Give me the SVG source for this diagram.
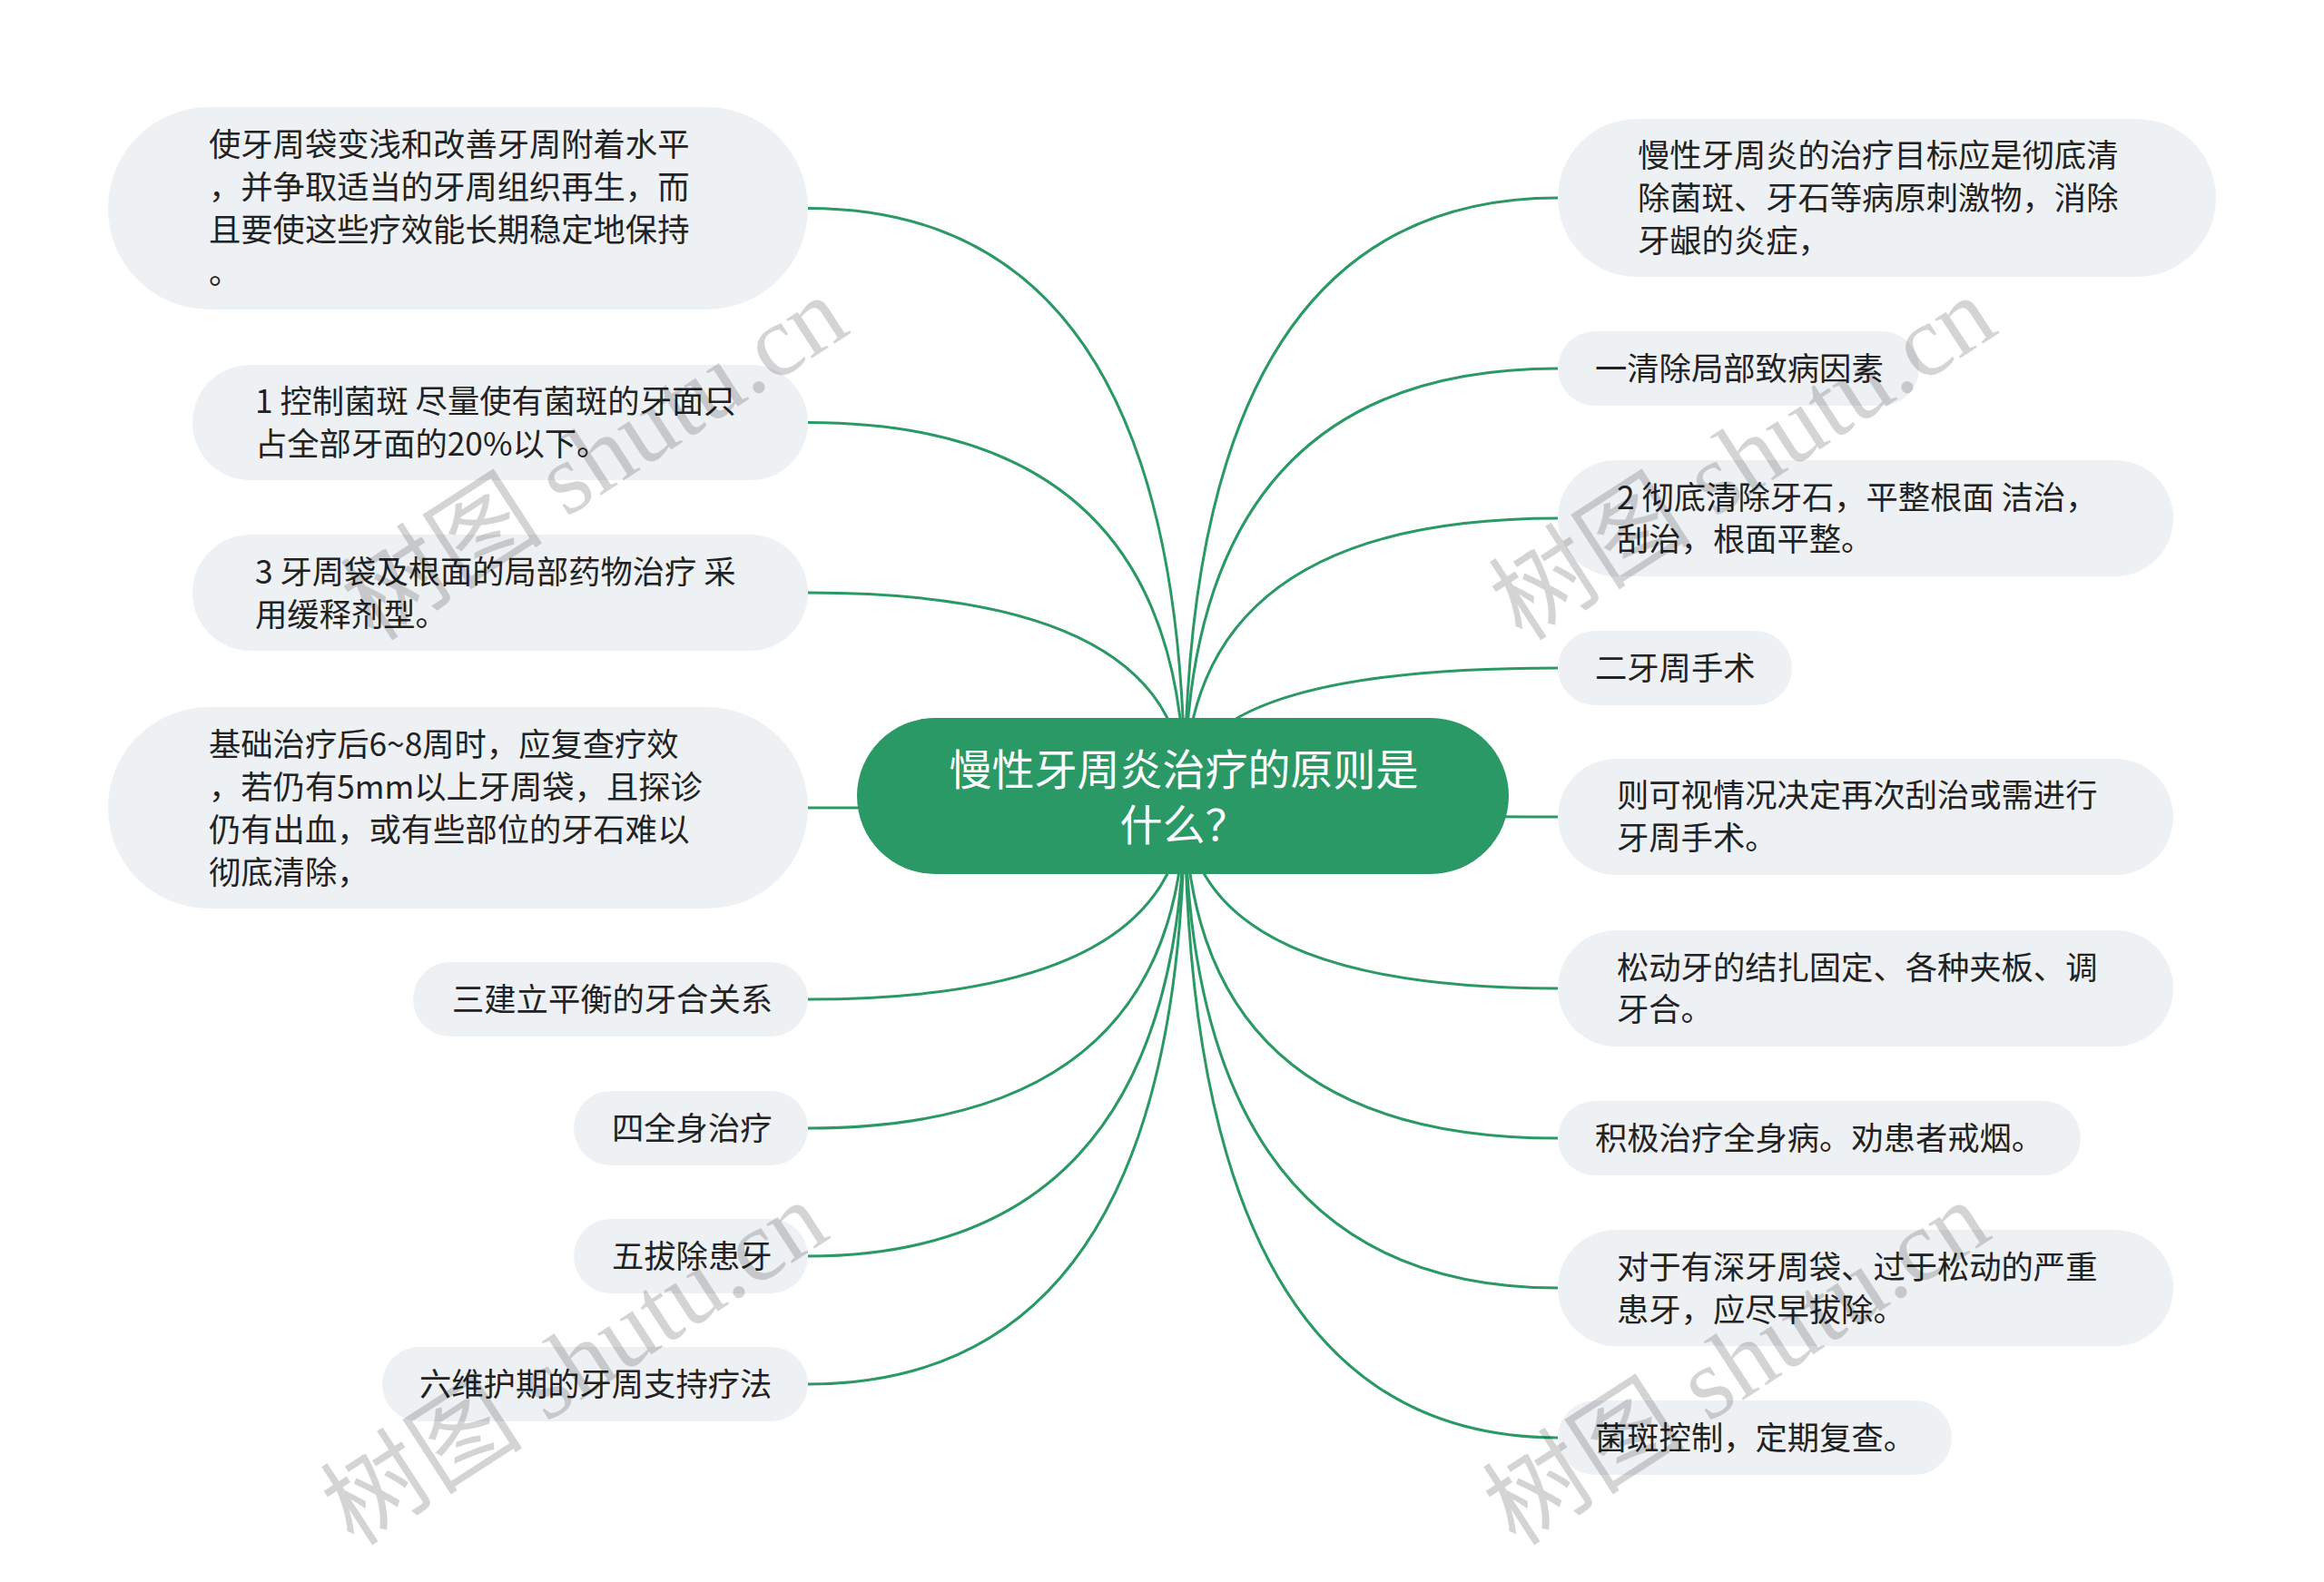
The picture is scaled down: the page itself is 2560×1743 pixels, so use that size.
<svg xmlns="http://www.w3.org/2000/svg" width="2560" height="1743" viewBox="0 0 2560 1743">
<style>
.bg{fill:#ffffff}
.node rect{fill:#eef1f4}
.t{font-family:"Noto Sans CJK SC","Liberation Sans",sans-serif;font-size:35.3px;fill:#222222}
.root rect{fill:#2a9966}
.rt{font-family:"Noto Sans CJK SC","Liberation Sans",sans-serif;font-size:47px;fill:#ffffff;text-anchor:middle}
.conn path{fill:none;stroke:#2a9966;stroke-width:3}
.wm text{font-family:"Liberation Serif","Noto Sans CJK SC",serif;font-size:112px;fill:#000000;fill-opacity:0.17}
</style>
<rect class="bg" x="0" y="0" width="2560" height="1743"/>
<g id="connectors" class="conn">
<path d="M890 229.5 Q1305 229.5 1305 877"/>
<path d="M890 465.5 Q1305 465.5 1305 877"/>
<path d="M890 653 Q1305 653 1305 877"/>
<path d="M890 890 Q1305 890 1305 877"/>
<path d="M890 1101 Q1305 1101 1305 877"/>
<path d="M890 1243 Q1305 1243 1305 877"/>
<path d="M890 1384 Q1305 1384 1305 877"/>
<path d="M890 1525 Q1305 1525 1305 877"/>
<path d="M1716 218 Q1305 218 1305 877"/>
<path d="M1716 406 Q1305 406 1305 877"/>
<path d="M1716 571 Q1305 571 1305 877"/>
<path d="M1716 736 Q1305 736 1305 877"/>
<path d="M1716 900 Q1305 900 1305 877"/>
<path d="M1716 1089 Q1305 1089 1305 877"/>
<path d="M1716 1254 Q1305 1254 1305 877"/>
<path d="M1716 1419 Q1305 1419 1305 877"/>
<path d="M1716 1584 Q1305 1584 1305 877"/>
</g>
<g id="root" class="root">
<rect x="944" y="791" width="718" height="172" rx="86"/>
<text class="rt" x="1304" y="865">慢性牙周炎治疗的原则是</text>
<text class="rt" x="1304" y="926">什么？</text>
</g>
<g id="L1" class="node">
<rect x="119" y="118" width="771" height="223" rx="111.5"/>
<text class="t" x="230" y="172">使牙周袋变浅和改善牙周附着水平</text>
<text class="t" x="230" y="219">，并争取适当的牙周组织再生，而</text>
<text class="t" x="230" y="266">且要使这些疗效能长期稳定地保持</text>
<text class="t" x="230" y="313">。</text>
</g>
<g id="L2" class="node">
<rect x="212" y="402" width="678" height="127" rx="63.5"/>
<text class="t" x="281" y="455">1 控制菌斑 尽量使有菌斑的牙面只</text>
<text class="t" x="281" y="502">占全部牙面的20%以下。</text>
</g>
<g id="L3" class="node">
<rect x="212" y="589" width="678" height="128" rx="64"/>
<text class="t" x="281" y="643">3 牙周袋及根面的局部药物治疗 采</text>
<text class="t" x="281" y="690">用缓释剂型。</text>
</g>
<g id="L4" class="node">
<rect x="119" y="779" width="771" height="222" rx="111"/>
<text class="t" x="230" y="833">基础治疗后6~8周时，应复查疗效</text>
<text class="t" x="230" y="880">，若仍有5mm以上牙周袋，且探诊</text>
<text class="t" x="230" y="927">仍有出血，或有些部位的牙石难以</text>
<text class="t" x="230" y="974">彻底清除，</text>
</g>
<g id="L5" class="node">
<rect x="455" y="1060" width="435" height="82" rx="41"/>
<text class="t" x="498" y="1114">三建立平衡的牙合关系</text>
</g>
<g id="L6" class="node">
<rect x="632" y="1202" width="258" height="82" rx="41"/>
<text class="t" x="674" y="1256">四全身治疗</text>
</g>
<g id="L7" class="node">
<rect x="632" y="1343" width="258" height="82" rx="41"/>
<text class="t" x="674" y="1397">五拔除患牙</text>
</g>
<g id="L8" class="node">
<rect x="421" y="1484" width="469" height="82" rx="41"/>
<text class="t" x="462" y="1538">六维护期的牙周支持疗法</text>
</g>
<g id="R1" class="node">
<rect x="1716" y="131" width="725" height="174" rx="87"/>
<text class="t" x="1804" y="184">慢性牙周炎的治疗目标应是彻底清</text>
<text class="t" x="1804" y="231">除菌斑、牙石等病原刺激物，消除</text>
<text class="t" x="1804" y="278">牙龈的炎症，</text>
</g>
<g id="R2" class="node">
<rect x="1716" y="365" width="398" height="82" rx="41"/>
<text class="t" x="1757" y="419">一清除局部致病因素</text>
</g>
<g id="R3" class="node">
<rect x="1716" y="507" width="678" height="128" rx="64"/>
<text class="t" x="1781" y="561">2 彻底清除牙石，平整根面 洁治，</text>
<text class="t" x="1781" y="607">刮治，根面平整。</text>
</g>
<g id="R4" class="node">
<rect x="1716" y="695" width="258" height="82" rx="41"/>
<text class="t" x="1757" y="749">二牙周手术</text>
</g>
<g id="R5" class="node">
<rect x="1716" y="836" width="678" height="128" rx="64"/>
<text class="t" x="1781" y="889">则可视情况决定再次刮治或需进行</text>
<text class="t" x="1781" y="936">牙周手术。</text>
</g>
<g id="R6" class="node">
<rect x="1716" y="1025" width="678" height="128" rx="64"/>
<text class="t" x="1781" y="1079">松动牙的结扎固定、各种夹板、调</text>
<text class="t" x="1781" y="1125">牙合。</text>
</g>
<g id="R7" class="node">
<rect x="1716" y="1213" width="576" height="82" rx="41"/>
<text class="t" x="1757" y="1267">积极治疗全身病。劝患者戒烟。</text>
</g>
<g id="R8" class="node">
<rect x="1716" y="1355" width="678" height="128" rx="64"/>
<text class="t" x="1781" y="1409">对于有深牙周袋、过于松动的严重</text>
<text class="t" x="1781" y="1456">患牙，应尽早拔除。</text>
</g>
<g id="R9" class="node">
<rect x="1716" y="1543" width="434" height="82" rx="41"/>
<text class="t" x="1757" y="1597">菌斑控制，定期复查。</text>
</g>
<g id="watermarks" class="wm">
<text transform="translate(412 708) rotate(-33)">树图 shutu.cn</text>
<text transform="translate(1677 708) rotate(-33)">树图 shutu.cn</text>
<text transform="translate(390 1705) rotate(-33)">树图 shutu.cn</text>
<text transform="translate(1670 1705) rotate(-33)">树图 shutu.cn</text>
</g>
</svg>
